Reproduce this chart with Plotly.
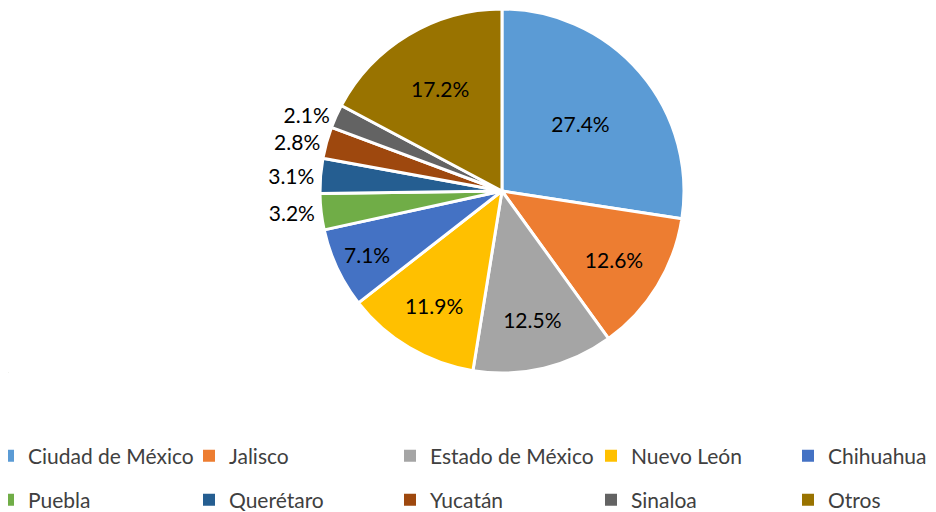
import plotly.graph_objects as go

labels = ["Ciudad de México", "Jalisco", "Estado de México", "Nuevo León", "Chihuahua",
          "Puebla", "Querétaro", "Yucatán", "Sinaloa", "Otros"]
values = [27.4, 12.6, 12.5, 11.9, 7.1, 3.2, 3.1, 2.8, 2.1, 17.2]
colors = ["#5B9BD5", "#ED7D31", "#A5A5A5", "#FFC000", "#4472C4",
          "#70AD47", "#255E91", "#9E480E", "#636363", "#997300"]
text_pos = ["inside"] * 5 + ["outside"] * 4 + ["inside"]

FONT = "Lato"

fig = go.Figure()
fig.add_trace(go.Pie(
    labels=labels, values=values, sort=False, direction="clockwise", rotation=0,
    marker=dict(colors=colors, line=dict(color="white", width=3)),
    texttemplate="%{value:.1f}%", textposition=text_pos,
    insidetextorientation="horizontal",
    textfont=dict(family=FONT, size=21, color="black"),
    showlegend=False, domain=dict(x=[0.0555, 1.0], y=[0, 1]),
))
# legend entries carried by tiny pies: first four columns per row, and the fifth column
groups = [([0, 1, 2, 3], "legend"), ([5, 6, 7, 8], "legend2"),
          ([4], "legend3"), ([9], "legend4")]
for idx, lg in groups:
    fig.add_trace(go.Pie(
        labels=[labels[i] for i in idx], values=[values[i] for i in idx], sort=False,
        marker=dict(colors=[colors[i] for i in idx]), textinfo="none", hoverinfo="skip",
        domain=dict(x=[0, 0.0005], y=[0, 0.0005]), legend=lg, showlegend=True,
    ))

leg_common = dict(orientation="h", xanchor="left", yanchor="middle", entrywidth=156,
                  entrywidthmode="pixels", font=dict(family=FONT, size=21, color="#404040"),
                  itemwidth=30, bgcolor="rgba(0,0,0,0)")
x_left = -20 / 936
x_col5 = 780 / 936
y_row1, y_row2 = -0.228, -0.349
fig.update_layout(
    width=936, height=512,
    margin=dict(l=0, r=0, t=1, b=147, autoexpand=False),
    paper_bgcolor="white", plot_bgcolor="white",
    legend=dict(x=x_left, y=y_row1, **leg_common),
    legend2=dict(x=x_left, y=y_row2, **leg_common),
    legend3=dict(x=x_col5, y=y_row1, **leg_common),
    legend4=dict(x=x_col5, y=y_row2, **leg_common),
)
fig.write_html("out.html")
